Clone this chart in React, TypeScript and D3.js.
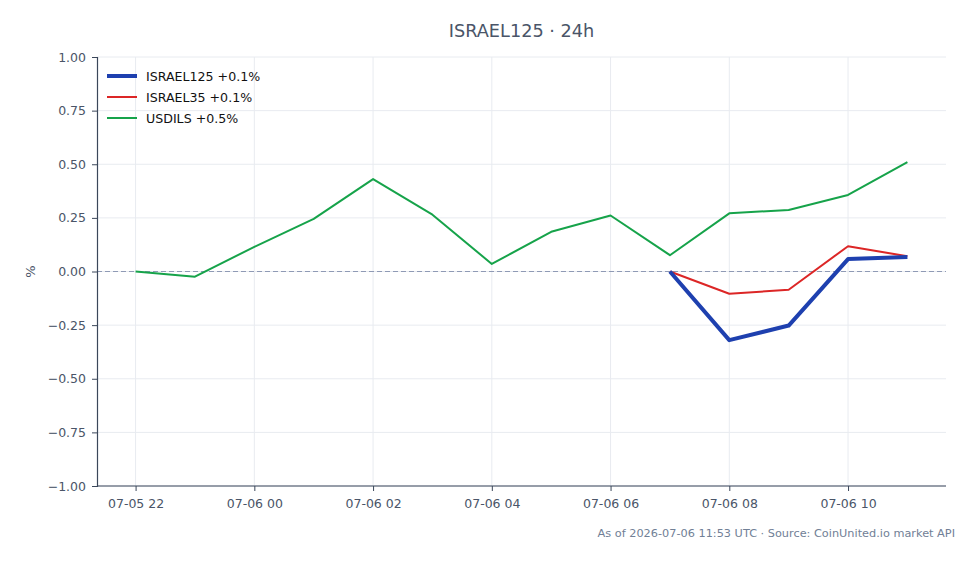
import * as React from 'react';
import * as d3 from 'd3';

// hourly % change, 07-05 22:00 .. 07-06 11:00
const hours = [
    '2026-07-05T22:00', '2026-07-05T23:00', '2026-07-06T00:00', '2026-07-06T01:00',
    '2026-07-06T02:00', '2026-07-06T03:00', '2026-07-06T04:00', '2026-07-06T05:00',
    '2026-07-06T06:00', '2026-07-06T07:00', '2026-07-06T08:00', '2026-07-06T09:00',
    '2026-07-06T10:00', '2026-07-06T11:00'
];
const usdils = [0, -0.024, 0.115, 0.245, 0.431, 0.265, 0.035, 0.185, 0.261, 0.076, 0.271, 0.287, 0.357, 0.51];
// index series only start trading at 07:00
const israel35 = [null, null, null, null, null, null, null, null, null, 0, -0.104, -0.085, 0.118, 0.071];
const israel125 = [null, null, null, null, null, null, null, null, null, 0, -0.32, -0.252, 0.058, 0.068];
const yTicks = [-1, -0.75, -0.5, -0.25, 0, 0.25, 0.5, 0.75, 1];

const seriesList = [
    { name: 'ISRAEL125 +0.1%', values: israel125, color: '#1e40af', width: 4 },
    { name: 'ISRAEL35 +0.1%', values: israel35, color: '#dc2626', width: 2 },
    { name: 'USDILS +0.5%', values: usdils, color: '#16a34a', width: 2 }
];

const config = {
    width: 978,
    height: 564,
    margin: { left: 97, right: 32, top: 57, bottom: 78 }
};

class App extends React.Component<any, any> {
    ref = React.createRef<HTMLDivElement>();

    componentDidMount() {
        this.createChart();
    }

    componentDidUpdate() {
        this.createChart();
    }

    createChart() {
        const root = d3.select(this.ref.current);
        root.select('svg').remove();
        const font = 'DejaVu Sans, sans-serif';
        const m = config.margin;
        const left = m.left, right = config.width - m.right;
        const top = m.top, bottom = config.height - m.bottom;

        const parse = d3.timeParse('%Y-%m-%dT%H:%M');
        const dates = hours.map(h => parse(h) as Date);
        const pad = 0.65 * 3600 * 1000;
        const xScale = d3.scaleTime()
            .domain([+dates[0] - pad, +dates[dates.length - 1] + pad])
            .range([left, right]);
        const yScale = d3.scaleLinear().domain([-1, 1]).range([bottom, top]);
        const xTicks = dates.filter((d, i) => i % 2 === 0);

        const svg = root.append('svg')
            .attr('width', config.width)
            .attr('height', config.height)
            .style('position', 'absolute')
            .style('left', 0)
            .style('top', 0)
            .style('font-family', font);

        svg.append('text')
            .attr('x', (left + right) / 2)
            .attr('y', 37)
            .attr('text-anchor', 'middle')
            .style('font-size', '17.7px')
            .style('fill', '#4a5568')
            .text('ISRAEL125 · 24h');

        // grid
        const grid = svg.append('g');
        grid.selectAll('.gy').data(yTicks).enter().append('line')
            .attr('x1', left).attr('x2', right)
            .attr('y1', d => yScale(d)).attr('y2', d => yScale(d))
            .style('stroke', '#e8ebf0').style('stroke-width', 1);
        grid.selectAll('.gx').data(xTicks).enter().append('line')
            .attr('x1', d => xScale(d)).attr('x2', d => xScale(d))
            .attr('y1', top).attr('y2', bottom)
            .style('stroke', '#e8ebf0').style('stroke-width', 1);

        svg.append('line')
            .attr('x1', left).attr('x2', right)
            .attr('y1', yScale(0)).attr('y2', yScale(0))
            .style('stroke', '#8f9ab5').style('stroke-width', 1)
            .style('stroke-dasharray', '5,3');

        const yAxis = svg.append('g')
            .attr('transform', 'translate(' + left + ',0)')
            .call(d3.axisLeft(yScale).tickValues(yTicks).tickFormat(d3.format('.2f')).tickSizeOuter(0).tickSize(5).tickPadding(6));
        const xAxis = svg.append('g')
            .attr('transform', 'translate(0,' + bottom + ')')
            .call(d3.axisBottom(xScale).tickValues(xTicks).tickFormat(d3.timeFormat('%m-%d %H') as any).tickSizeOuter(0).tickSize(5).tickPadding(8));
        [xAxis, yAxis].forEach(ax => {
            ax.select('.domain').style('stroke', '#3b475a').style('stroke-width', 1.2);
            ax.selectAll('.tick line').style('stroke', '#3b475a');
            ax.selectAll('.tick text')
                .style('font-family', font)
                .style('font-size', '12.5px')
                .style('fill', '#4a5568');
        });
        // span the full x range with the bottom spine
        xAxis.select('.domain').attr('d', 'M' + left + ',0H' + right);

        svg.append('text')
            .attr('transform', 'translate(35,' + yScale(0) + ') rotate(-90)')
            .attr('text-anchor', 'middle')
            .style('font-size', '13px')
            .style('fill', '#4a5568')
            .text('%');

        const line = d3.line<any>()
            .defined(d => d.v !== null)
            .x(d => xScale(d.t))
            .y(d => yScale(d.v));

        const g = svg.append('g');
        seriesList.slice().reverse().forEach(s => {
            g.append('path')
                .datum(s.values.map((v, i) => ({ t: dates[i], v })))
                .attr('d', line)
                .style('fill', 'none')
                .style('stroke', s.color)
                .style('stroke-width', s.width)
                .style('stroke-linejoin', 'round');
        });

        const legend = svg.append('g');
        seriesList.forEach((s, i) => {
            const y = 76 + i * 21;
            legend.append('line')
                .attr('x1', 107).attr('x2', 137)
                .attr('y1', y).attr('y2', y)
                .style('stroke', s.color)
                .style('stroke-width', s.width);
            legend.append('text')
                .attr('x', 146).attr('y', y + 4.5)
                .style('font-size', '12.6px')
                .style('fill', '#111')
                .text(s.name);
        });

        svg.append('text')
            .attr('x', 955)
            .attr('y', 537)
            .attr('text-anchor', 'end')
            .style('font-size', '11.3px')
            .style('fill', '#718096')
            .text('As of 2026-07-06 11:53 UTC · Source: CoinUnited.io market API');
    }

    render() {
        return <div ref={this.ref}></div>;
    }
}

export default App
